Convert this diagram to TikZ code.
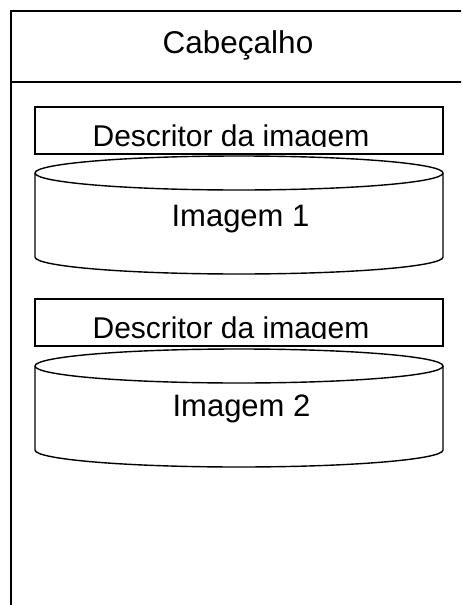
\documentclass[tikz,border=0pt]{standalone}
\usepackage{fontspec}
\setmainfont{Liberation Sans}
\begin{document}
\begin{tikzpicture}[x=1pt,y=-1pt,
  frameline/.style={line width=2pt,line cap=rect},
  part/.style={line width=1.4pt,fill=white},
  lbl/.style={inner sep=0pt,anchor=base,font=\fontsize{30}{36}\selectfont},
  headlbl/.style={inner sep=0pt,anchor=base,font=\fontsize{31.5}{38}\selectfont},
  imglbl/.style={inner sep=0pt,anchor=base,font=\fontsize{31}{37}\selectfont}]
\useasboundingbox (0,0) rectangle (461,605);
\begin{scope}
\clip (0,0) rectangle (461,605);
% outer frame (cropped at right and bottom)
\draw[frameline] (11,620) -- (11,11) -- (480,11);
\draw[frameline] (11,82) -- (480,82);
\node[headlbl] (head) at (238,53.3) {Cabeçalho};

% descriptor 1
\draw[part] (35,107) rectangle (443,154);
\begin{scope}
\clip (35,107) rectangle (443,146.5);
\node[lbl] (desc1) at (231,146) {Descritor da imagem};
\end{scope}
% cylinder 1
\draw[part] (35,173) -- (35,257) arc[start angle=180,end angle=0,x radius=204,y radius=17] -- (443,173) arc[start angle=0,end angle=-180,x radius=204,y radius=17] -- cycle;
\draw[line width=1.4pt] (35,173) arc[start angle=180,end angle=0,x radius=204,y radius=17];
\node[imglbl] (img1) at (240.5,226.7) {Imagem 1};

% descriptor 2
\draw[part] (35,299) rectangle (443,346);
\begin{scope}
\clip (35,299) rectangle (443,338.5);
\node[lbl] (desc2) at (231,338) {Descritor da imagem};
\end{scope}
% cylinder 2
\draw[part] (35,366) -- (35,450) arc[start angle=180,end angle=0,x radius=204,y radius=17] -- (443,366) arc[start angle=0,end angle=-180,x radius=204,y radius=17] -- cycle;
\draw[line width=1.4pt] (35,366) arc[start angle=180,end angle=0,x radius=204,y radius=17];
\node[imglbl] (img2) at (241.5,416.7) {Imagem 2};
\end{scope}
\end{tikzpicture}
\end{document}
